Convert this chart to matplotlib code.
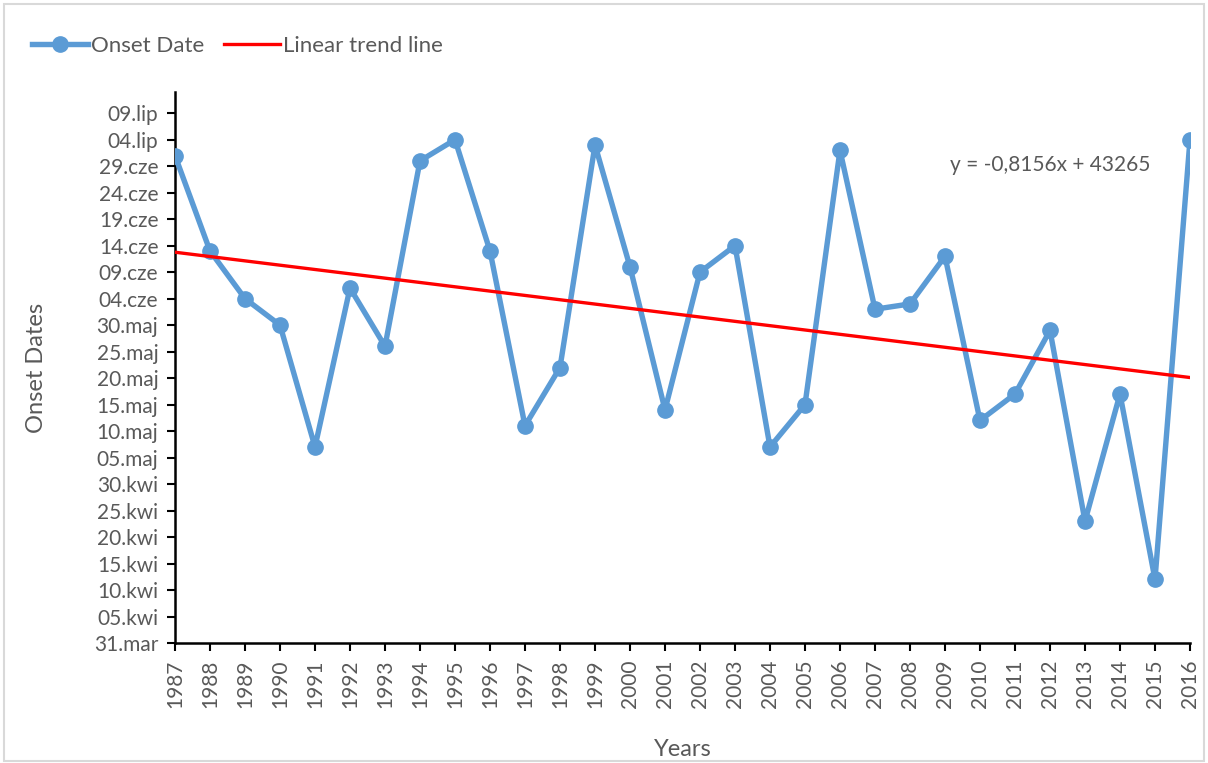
import matplotlib
matplotlib.use("Agg")
import matplotlib.pyplot as plt
import numpy as np
from matplotlib.patches import Rectangle
from matplotlib.lines import Line2D

plt.rcParams['font.family'] = ['Lato', 'DejaVu Sans']

years = list(range(1987, 2017))
# onset day counted from 31 March (0 = 31.mar)
onset_days = [92, 74, 65, 60, 37, 67, 56, 91, 95, 74,
              41, 52, 94, 71, 44, 70, 75, 37, 45, 93,
              63, 64, 73, 42, 47, 59, 23, 47, 12, 95]
ytick_days = list(range(0, 101, 5))
ytick_labels = ['31.mar', '05.kwi', '10.kwi', '15.kwi', '20.kwi', '25.kwi', '30.kwi',
                '05.maj', '10.maj', '15.maj', '20.maj', '25.maj', '30.maj',
                '04.cze', '09.cze', '14.cze', '19.cze', '24.cze', '29.cze',
                '04.lip', '09.lip']
equation_text = 'y = -0,8156x + 43265'

gray = '#595959'
blue = '#5B9BD5'
fs = 15

fig = plt.figure(figsize=(12.08, 7.63), dpi=100)
ax = fig.add_axes([175/1208, 1-643/763, (1190-175)/1208, (643-92)/763])

x = np.arange(len(years))
ax.plot(x, onset_days, color=blue, lw=3.9, marker='o', ms=11, zorder=3,
        solid_capstyle='round', solid_joinstyle='round')
coef = np.polyfit(x, onset_days, 1)
ax.plot(x, np.polyval(coef, x), color='#FF0000', lw=2.4, zorder=4)

ax.set_xlim(0, len(years)-1)
ax.set_ylim(0, 104)
ax.set_xticks(x)
ax.set_xticklabels([str(y) for y in years], rotation=90, color=gray, fontsize=fs)
ax.set_yticks(ytick_days)
ax.set_yticklabels(ytick_labels, color=gray, fontsize=fs)
ax.tick_params(axis='both', direction='out', length=6, width=1.5, color='black')
ax.tick_params(axis='x', pad=6)
ax.tick_params(axis='y', pad=6)
for s in ['top', 'right']:
    ax.spines[s].set_visible(False)
for s in ['left', 'bottom']:
    ax.spines[s].set_linewidth(1.8)
    ax.spines[s].set_color('black')

ax.set_ylabel('Onset Dates', fontsize=17, color=gray, labelpad=34)
ax.set_xlabel('Years', fontsize=17, color=gray, labelpad=22)

ax.text(22.14, 90.2, equation_text, fontsize=fs, color=gray, ha='left', va='center')

handles = [Line2D([], [], color=blue, lw=3.9, marker='o', ms=11),
           Line2D([], [], color='#FF0000', lw=2.4)]
fig.legend(handles, ['Onset Date', 'Linear trend line'], loc='center left',
           bbox_to_anchor=(12/1208, 1-46/763), ncol=2, frameon=False,
           fontsize=16, labelcolor=gray, handlelength=2.5, handletextpad=0.15,
           columnspacing=0.9)

fig.patches.append(Rectangle((0.003, 0.003), 0.994, 0.992, transform=fig.transFigure,
                             fill=False, edgecolor='#D9D9D9', lw=1.5))

fig.savefig('out.png', dpi=100, facecolor='white')
